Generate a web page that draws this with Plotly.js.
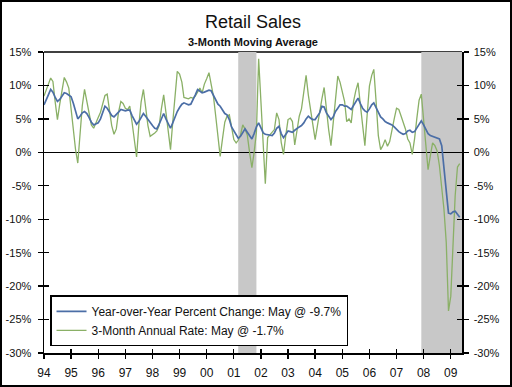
<!DOCTYPE html>
<html>
<head>
<meta charset="utf-8">
<script src="https://cdn.plot.ly/plotly-3.0.1.min.js"></script>
<style>
html,body{margin:0;padding:0;background:#fff;}
#wrap{position:relative;width:512px;height:387px;}
#chart{width:512px;height:387px;}
#frame{position:absolute;left:0;top:0;width:512px;height:387px;box-sizing:border-box;border:2px solid #000;pointer-events:none;}
</style>
</head>
<body>
<div id="wrap"><div id="chart"></div><div id="frame"></div></div>
<script>
// Monthly data, Jan 1994 - May 2009
const startYear = 1994;
const yoyChange = [
  7.1, 7.8, 8.6, 9.4, 9.0, 8.2, 7.6, 7.9, 8.4, 8.9, 8.8, 8.6,   // 1994
  8.3, 7.3, 6.0, 5.0, 5.4, 5.9, 6.1, 5.8, 5.2, 4.5, 4.1, 4.2,   // 1995
  4.4, 5.0, 6.0, 6.9, 6.6, 6.0, 5.5, 5.3, 5.6, 6.0, 6.4, 6.3,   // 1996
  6.2, 6.3, 6.3, 5.5, 4.8, 4.2, 4.6, 5.3, 5.8, 5.4, 4.9, 4.4,   // 1997
  4.0, 3.6, 3.5, 4.2, 5.0, 5.8, 5.0, 4.2, 3.6, 4.4, 5.3, 6.1,   // 1998
  6.7, 7.2, 7.4, 7.3, 7.1, 7.2, 7.8, 8.6, 9.4, 9.1, 8.9, 9.0,   // 1999
  9.2, 9.3, 9.2, 8.5, 7.8, 7.2, 6.9, 6.3, 5.8, 5.6, 4.9, 3.8,   // 2000
  3.2, 2.6, 2.1, 2.4, 3.0, 3.5, 3.0, 2.5, 2.0, 2.8, 3.8, 4.4,   // 2001
  3.5, 2.9, 2.7, 2.6, 2.5, 2.5, 2.9, 3.6, 3.9, 2.8, 2.2, 2.8,   // 2002
  3.2, 3.1, 3.0, 3.3, 3.6, 3.8, 4.0, 4.4, 5.0, 5.4, 5.1, 4.9,   // 2003
  4.9, 5.4, 5.9, 6.9, 6.8, 5.9, 5.4, 4.9, 5.3, 6.1, 6.6, 7.1,   // 2004
  7.1, 6.9, 6.9, 6.6, 6.4, 7.0, 7.6, 8.1, 7.3, 6.6, 6.2, 6.0,   // 2005
  6.5, 7.1, 7.4, 6.6, 5.9, 5.3, 5.0, 4.6, 4.4, 4.3, 4.1, 3.8,   // 2006
  3.4, 3.1, 2.9, 2.7, 2.8, 3.2, 3.3, 3.0, 3.1, 3.6, 4.3, 4.7,   // 2007
  4.1, 3.4, 2.8, 2.5, 2.4, 2.3, 2.1, 2.0, 1.0, -2.5, -6.0, -9.1, // 2008
  -9.2, -8.9, -8.8, -9.3, -9.7                                  // 2009
];
const annualRate3m = [
  8.4, 9.2, 10.2, 11.1, 10.6, 7.5, 4.9, 7.2, 9.5, 11.2, 10.5, 9.6,   // 1994
  6.5, 3.0, 0.5, -1.6, 3.0, 7.0, 9.4, 7.5, 5.5, 4.1, 3.6, 4.5,       // 1995
  5.2, 6.0, 7.3, 8.5, 8.7, 6.5, 4.0, 2.7, 3.5, 6.0, 7.6, 7.3,        // 1996
  6.6, 6.4, 6.9, 4.5, 2.0, -0.7, 4.0, 7.5, 9.4, 6.5, 4.0, 2.4,       // 1997
  2.6, 2.9, 3.2, 4.0, 6.5, 8.6, 6.0, 3.0, 0.4, 4.5, 8.5, 12.1,       // 1998
  11.7, 10.5, 8.2, 8.1, 8.0, 8.2, 8.1, 8.4, 9.0, 9.6, 8.9, 10.2,     // 1999
  11.0, 11.9, 10.2, 8.4, 5.5, 2.5, -0.6, 2.0, 4.5, 5.4, 5.6, 3.8,    // 2000
  1.9, 1.4, 1.8, 2.6, 4.1, 3.5, 2.6, 0.0, -2.3, 0.0, 3.0, 14.0,      // 2001
  7.0, 0.5, -4.7, 2.2, 2.6, 2.9, 3.4, 5.9, 4.9, 1.5, -0.3, 2.5,      // 2002
  4.9, 5.1, 4.6, 1.1, 3.0, 5.4, 6.5, 9.0, 11.5, 8.6, 6.5, 4.6,       // 2003
  1.9, 4.0, 6.1, 8.0, 9.7, 6.1, 3.4, 1.0, 4.5, 8.5, 11.4, 10.5,      // 2004
  8.8, 7.6, 4.6, 5.0, 4.4, 7.6, 9.2, 10.4, 7.1, 3.5, 1.0, 5.5,       // 2005
  9.9, 11.5, 12.4, 7.6, 2.5, 0.4, 1.0, 1.9, 0.9, 1.6, 3.6, 5.0,      // 2006
  6.6, 6.4, 5.5, 4.6, 3.5, 2.0, 1.4, -0.3, 2.0, 5.0, 7.8, 8.7,       // 2007
  5.0, 1.0, -2.6, -0.5, 1.4, 1.0, 0.2, -2.0, -5.0, -8.5, -13.5, -23.7, // 2008
  -21.5, -14.0, -6.5, -2.2, -1.7                                    // 2009
];
const seriesNames = ['Year-over-Year Percent Change: May @ -9.7%', '3-Month Annual Rate: May @ -1.7%'];
const recessions = [['2001-03-01', '2001-11-01'], ['2007-12-01', '2009-06-01']];
const xTickVals = ['1994-01-01','1995-01-01','1996-01-01','1997-01-01','1998-01-01','1999-01-01','2000-01-01','2001-01-01','2002-01-01','2003-01-01','2004-01-01','2005-01-01','2006-01-01','2007-01-01','2008-01-01','2009-01-01'];
const xTickText = ['94','95','96','97','98','99','00','01','02','03','04','05','06','07','08','09'];
const yTickVals = [-30, -25, -20, -15, -10, -5, 0, 5, 10, 15];
const yTickText = ['-30%', '-25%', '-20%', '-15%', '-10%', '-5%', '0%', '5%', '10%', '15%'];
const xRange = ['1994-01-01', '2009-06-01'];
const yRange = [-30, 15];

const dates = yoyChange.map((_, i) => {
  const y = startYear + Math.floor(i / 12);
  const m = (i % 12) + 1;
  return y + '-' + String(m).padStart(2, '0') + '-01';
});

const BLUE = '#4B6EA6';
const GREEN = '#8AB066';
const FONT = 'Liberation Sans, Arial, sans-serif';
const INK = '#111111';

const traces = [
  {x: dates, y: annualRate3m, name: seriesNames[1], type: 'scatter', mode: 'lines',
   line: {color: GREEN, width: 1.3}, legendrank: 2},
  {x: dates, y: yoyChange, name: seriesNames[0], type: 'scatter', mode: 'lines',
   line: {color: BLUE, width: 1.7}, legendrank: 1},
  {x: [], y: [], xaxis: 'x2', yaxis: 'y3', showlegend: false, hoverinfo: 'skip'},
  {x: [], y: [], yaxis: 'y2', showlegend: false, hoverinfo: 'skip'},
  {x: [], y: [], yaxis: 'y4', showlegend: false, hoverinfo: 'skip'}
];

const tickFont = {family: FONT, size: 11, color: INK};
const yBase = {range: yRange, tickmode: 'array', tickvals: yTickVals, ticktext: yTickText,
  showgrid: false, zeroline: false, tickcolor: '#000', tickwidth: 1.3, ticklen: 5, fixedrange: true};

const shapes = [
  {type: 'line', xref: 'paper', yref: 'paper', x0: 0, x1: 1, y0: 1, y1: 1,
   line: {color: '#000', width: 1.5}, layer: 'below'}
].concat(recessions.map(r => ({
  type: 'rect', xref: 'x', yref: 'paper', x0: r[0], x1: r[1], y0: 0, y1: 1,
  fillcolor: '#C8C8C8', line: {width: 0}, layer: 'below'
})));

const layout = {
  width: 512, height: 387,
  margin: {l: 44, r: 50, t: 52, b: 34},
  paper_bgcolor: '#fff', plot_bgcolor: '#fff',
  font: {family: FONT, color: INK},
  showlegend: true,
  xaxis: {type: 'date', range: xRange, tickmode: 'array', tickvals: xTickVals, ticktext: xTickText,
    ticks: 'outside', ticklen: 4, tickwidth: 1.3, tickcolor: '#000', showline: true, linecolor: '#000',
    linewidth: 1.5, showgrid: false, zeroline: false, ticklabelstandoff: 4,
    tickfont: {family: FONT, size: 12, color: INK}, fixedrange: true},
  xaxis2: {type: 'date', range: xRange, overlaying: 'x', anchor: 'y', side: 'bottom', tickmode: 'array',
    tickvals: xTickVals, ticks: 'inside', ticklen: 4, tickwidth: 1.3, tickcolor: '#000',
    showticklabels: false, showline: false, showgrid: false, zeroline: false, fixedrange: true},
  yaxis: Object.assign({}, yBase, {side: 'left', ticks: 'outside', showline: true, linecolor: '#000',
    linewidth: 1.5, zeroline: true, zerolinecolor: '#000', zerolinewidth: 1.3, tickfont: tickFont,
    ticklabelstandoff: 4}),
  yaxis2: Object.assign({}, yBase, {side: 'right', overlaying: 'y', anchor: 'x', ticks: 'outside',
    showline: true, linecolor: '#000', linewidth: 1.5, tickfont: tickFont, ticklabelstandoff: 3}),
  yaxis3: Object.assign({}, yBase, {side: 'left', overlaying: 'y', anchor: 'x2', ticks: 'inside',
    showticklabels: false, showline: false}),
  yaxis4: Object.assign({}, yBase, {side: 'right', overlaying: 'y', anchor: 'x', ticks: 'inside',
    showticklabels: false, showline: false}),
  legend: {x: 0.0144, y: 0.022, xanchor: 'left', yanchor: 'bottom', bgcolor: '#fff',
    bordercolor: '#000', borderwidth: 1.5, traceorder: 'normal', itemwidth: 30,
    font: {family: FONT, size: 12, color: INK}},
  shapes: shapes,
  annotations: [
    {text: 'Retail Sales', xref: 'paper', yref: 'paper', x: 0.5, y: 1.0997, xanchor: 'center',
     yanchor: 'middle', showarrow: false, font: {family: FONT, size: 18, color: INK}},
    {text: '<b>3-Month Moving Average</b>', xref: 'paper', yref: 'paper', x: 0.5, y: 1.0332,
     xanchor: 'center', yanchor: 'middle', showarrow: false, font: {family: FONT, size: 11, color: INK}}
  ]
};

Plotly.newPlot('chart', traces, layout, {staticPlot: true, displayModeBar: false});
</script>
</body>
</html>
